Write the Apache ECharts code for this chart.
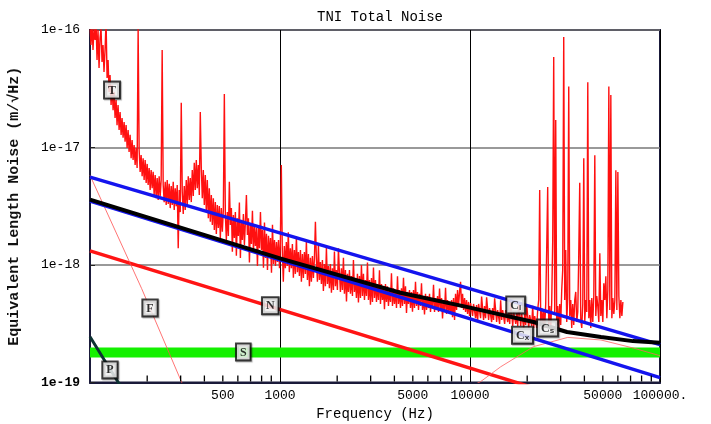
<!DOCTYPE html>
<html><head><meta charset="utf-8">
<script src="https://cdn.jsdelivr.net/npm/echarts@6/dist/echarts.min.js"></script>
<style>html,body{margin:0;padding:0;background:#fff}#c{width:711px;height:424px}</style>
</head><body><div id="c"></div>
<script>
// ---- tick labels ----
const xTickLabels = [500, 1000, 5000, 10000, 50000, 100000];
const xMinorTicks = [200,300,400,500,600,700,800,900,2000,3000,4000,5000,6000,7000,8000,9000,20000,30000,40000,50000,60000,70000,80000,90000];

// ---- measured total noise (T) [Hz, m/rtHz] ----
const measuredNoise = [
[100,1.17e-16],[101.2,7.45e-17],[102.5,1.1e-16],[103.7,6.76e-17],[105,1.04e-16],[106.3,8.22e-17],[107.6,1.17e-16],[108.9,5.56e-17],[110.2,1.0e-16],[111.6,4.75e-17],[112.9,8.5e-17],[114.3,1.04e-16],[115.7,5.35e-17],[117.1,7.45e-17],[118.5,4.4e-17],[120,6.76e-17],[121.5,1.2e-16],[123,3.9e-17],[124.5,5.56e-17],[126,2.97e-17],[127.5,4.14e-17],[129.1,2.3e-17],[130.7,3.4e-17],[132.3,2.08e-17],[133.9,2.97e-17],[135.5,1.78e-17],[137.2,2.54e-17],[138.8,1.55e-17],[140.5,2.3e-17],[142.3,1.41e-17],[144,2.0e-17],[145.8,1.28e-17],[147.5,1.78e-17],[149.3,1.21e-17],[151.2,1.65e-17],[153,1.12e-17],[154.9,1.55e-17],[156.8,9.9e-18],[158.7,1.41e-17],[160.6,9.15e-18],[162.6,1.28e-17],[164.6,8.1e-18],[166.6,1.16e-17],[168.6,7.83e-18],[170.7,1.05e-17],[172.8,7.1e-18],[174.9,9.9e-18],[177,6.7e-18],[179.2,1.04e-16],[181.4,9.52e-18],[183.6,6.2e-18],[185.8,8.63e-18],[188.1,5.7e-18],[190.4,8.1e-18],[192.7,5.29e-18],[195.1,7.83e-18],[197.5,5.0e-18],[199.9,7.25e-18],[202.3,4.8e-18],[204.8,6.7e-18],[207.3,4.35e-18],[209.8,6.43e-18],[212.4,4.5e-18],[215,6.2e-18],[217.6,3.94e-18],[220.3,5.83e-18],[223,3.7e-18],[225.7,5.5e-18],[228.5,3.57e-18],[231.2,5.7e-18],[234.1,3.86e-18],[236.9,5.29e-18],[239.8,6.76e-17],[242.8,4.8e-18],[245.7,3.43e-18],[248.8,5.1e-18],[251.8,3.24e-18],[254.9,5.29e-18],[258,3.3e-18],[261.2,4.9e-18],[264.4,3.05e-18],[267.6,4.7e-18],[270.9,3.24e-18],[274.2,5.1e-18],[277.5,2.94e-18],[280.9,4.5e-18],[284.4,3.17e-18],[287.8,4.8e-18],[291.3,1.39e-18],[294.9,4.35e-18],[298.5,2.82e-18],[302.2,2.4e-17],[305.9,4.2e-18],[309.6,2.72e-18],[313.4,4.7e-18],[317.2,2.94e-18],[321.1,5.29e-18],[325,3.24e-18],[329,5.7e-18],[333,3.57e-18],[337.1,5.5e-18],[341.2,3.43e-18],[345.4,6.43e-18],[349.6,3.86e-18],[353.9,7.4e-18],[358.2,4.35e-18],[362.6,7.83e-18],[367,4.5e-18],[371.5,7.1e-18],[376,3.94e-18],[380.6,2.0e-17],[385.3,6.7e-18],[390,3.7e-18],[394.8,6.43e-18],[399.6,3.24e-18],[404.5,5.83e-18],[409.4,2.82e-18],[414.4,5.29e-18],[419.5,2.5e-18],[424.6,4.5e-18],[429.8,2.33e-18],[435.1,3.94e-18],[440.4,2.19e-18],[445.8,3.7e-18],[451.2,1.99e-18],[456.7,3.43e-18],[462.3,1.84e-18],[467.9,3.24e-18],[473.6,2.07e-18],[479.4,3.17e-18],[485.3,1.7e-18],[491.2,3.05e-18],[497.2,1.92e-18],[503.3,2.94e-18],[509.4,2.85e-17],[515.7,2.66e-18],[522,1.63e-18],[528.3,2.82e-18],[534.8,1.77e-18],[541.3,5.1e-18],[548,2.19e-18],[554.7,3.05e-18],[561.4,1.3e-18],[568.3,2.66e-18],[575.2,1.7e-18],[582.3,2.82e-18],[589.4,1.2e-18],[596.6,2.5e-18],[603.9,1.77e-18],[611.3,3.4e-18],[618.8,1.15e-18],[626.4,2.42e-18],[634,1.63e-18],[641.8,2.72e-18],[649.6,1.48e-18],[657.6,2.33e-18],[665.6,3.94e-18],[673.8,1.8e-18],[682,2.5e-18],[690.4,1.05e-18],[698.8,2.25e-18],[707.4,1.51e-18],[716,2.9e-18],[724.8,1.29e-18],[733.7,2.15e-18],[742.6,1.45e-18],[751.7,2.07e-18],[760.9,9.8e-19],[770.2,2.19e-18],[779.6,1.39e-18],[789.1,2.82e-18],[798.8,1.34e-18],[808.5,1.99e-18],[818.4,9.5e-19],[828.4,2.3e-18],[838.5,1.15e-18],[848.8,1.84e-18],[859.1,9.07e-19],[869.6,1.77e-18],[880.3,1.15e-18],[891,1.7e-18],[901.9,8.6e-19],[912.9,2.2e-18],[924.1,1.02e-18],[935.4,1.63e-18],[946.8,9.8e-19],[958.4,1.57e-18],[970.1,1.06e-18],[982,1.63e-18],[994,9.4e-19],[1004,1.51e-18],[1016,7.1e-18],[1028,1.39e-18],[1041,7.2e-19],[1054,1.45e-18],[1067,9.4e-19],[1080,1.57e-18],[1093,9.8e-19],[1106,1.9e-18],[1120,8.7e-19],[1134,1.39e-18],[1148,9.4e-19],[1162,1.51e-18],[1176,7.8e-19],[1190,1.34e-18],[1205,8.4e-19],[1220,1.75e-18],[1235,8.7e-19],[1250,1.29e-18],[1265,8.05e-19],[1281,1.34e-18],[1296,7.2e-19],[1312,1.24e-18],[1328,7.75e-19],[1344,1.29e-18],[1361,8.4e-19],[1377,1.6e-18],[1394,7.45e-19],[1411,1.24e-18],[1428,6.6e-19],[1446,1.15e-18],[1463,7.2e-19],[1481,1.19e-18],[1499,7.75e-19],[1518,1.15e-18],[1536,2.33e-18],[1555,1.1e-18],[1574,7.2e-19],[1593,1.5e-18],[1612,7.45e-19],[1632,1.06e-18],[1652,6.9e-19],[1672,1.1e-18],[1692,6.0e-19],[1713,1.02e-18],[1734,6.6e-19],[1755,1.4e-18],[1777,6.9e-19],[1798,9.8e-19],[1820,6.35e-19],[1842,1.02e-18],[1865,5.8e-19],[1888,9.4e-19],[1911,6.13e-19],[1934,1.3e-18],[1958,6.6e-19],[1981,9.07e-19],[2005,6.13e-19],[2030,1.39e-18],[2055,8.7e-19],[2080,5.9e-19],[2105,9.4e-19],[2131,6.13e-19],[2157,1.15e-18],[2183,5.7e-19],[2210,9.07e-19],[2238,4.9e-19],[2264,8.4e-19],[2292,5.9e-19],[2320,9.07e-19],[2348,5.7e-19],[2377,8.05e-19],[2406,5.45e-19],[2435,1.1e-18],[2465,5.9e-19],[2495,7.75e-19],[2525,5.24e-19],[2556,8.4e-19],[2587,4.8e-19],[2619,8.05e-19],[2651,5.24e-19],[2683,1.0e-18],[2716,5.45e-19],[2749,8.4e-19],[2783,5.04e-19],[2817,7.45e-19],[2851,5.45e-19],[2886,1.05e-18],[2921,5.04e-19],[2957,7.45e-19],[2993,4.6e-19],[3030,7.75e-19],[3067,4.85e-19],[3104,9.5e-19],[3142,5.24e-19],[3180,7.45e-19],[3219,4.85e-19],[3258,6.9e-19],[3298,5.04e-19],[3338,9.0e-19],[3379,4.66e-19],[3420,6.9e-19],[3462,5.04e-19],[3504,6.6e-19],[3547,4.2e-19],[3590,6.9e-19],[3634,4.85e-19],[3678,6.6e-19],[3723,4.48e-19],[3769,6.35e-19],[3815,4.85e-19],[3861,8.5e-19],[3908,4.48e-19],[3956,6.35e-19],[4004,4.66e-19],[4053,6.13e-19],[4103,4.3e-19],[4153,8.0e-19],[4203,4.66e-19],[4255,6.13e-19],[4307,4.3e-19],[4359,6.35e-19],[4412,4.48e-19],[4466,7.8e-19],[4521,4.66e-19],[4576,6.6e-19],[4632,3.9e-19],[4688,5.9e-19],[4745,4.66e-19],[4803,6.13e-19],[4862,4.3e-19],[4921,5.9e-19],[4981,4.0e-19],[5042,6.13e-19],[5104,4.3e-19],[5166,7.2e-19],[5229,4.48e-19],[5293,5.9e-19],[5358,4.14e-19],[5423,5.7e-19],[5489,4.48e-19],[5556,7.0e-19],[5624,4.14e-19],[5693,5.45e-19],[5762,3.8e-19],[5832,5.7e-19],[5904,4.14e-19],[5976,5.45e-19],[6049,4.3e-19],[6123,5.7e-19],[6197,3.98e-19],[6273,5.24e-19],[6350,4.3e-19],[6427,6.8e-19],[6506,3.98e-19],[6585,5.24e-19],[6666,4.14e-19],[6747,5.45e-19],[6830,3.98e-19],[6913,6.3e-19],[6997,4.14e-19],[7083,5.24e-19],[7169,3.5e-19],[7257,5.04e-19],[7346,3.98e-19],[7435,6.4e-19],[7526,3.83e-19],[7618,5.04e-19],[7711,3.98e-19],[7805,4.85e-19],[7900,3.83e-19],[7997,5.04e-19],[8094,3.6e-19],[8193,5.24e-19],[8293,3.4e-19],[8394,5.7e-19],[8497,4.14e-19],[8600,6.13e-19],[8705,4.48e-19],[8812,5.9e-19],[8919,7.2e-19],[9028,4.3e-19],[9138,5.7e-19],[9250,4.14e-19],[9363,5.24e-19],[9477,3.98e-19],[9592,5.04e-19],[9710,3.83e-19],[9828,4.85e-19],[9948,3.68e-19],[10070,4.75e-19],[10320,3.68e-19],[10440,4.66e-19],[10700,3.53e-19],[10830,4.57e-19],[10960,3.3e-19],[11100,4.66e-19],[11370,3.53e-19],[11510,5.4e-19],[11790,3.4e-19],[11930,4.48e-19],[12080,3.53e-19],[12230,5.3e-19],[12530,3.4e-19],[12680,4.3e-19],[13000,3.27e-19],[13150,4.3e-19],[13310,3.4e-19],[13480,5.2e-19],[13810,3.27e-19],[13980,4.14e-19],[14320,3.15e-19],[14500,5.0e-19],[14680,3.4e-19],[14860,4.14e-19],[15220,3.15e-19],[15410,4.14e-19],[15790,3.27e-19],[15980,3.98e-19],[16180,3.15e-19],[16370,4.9e-19],[16780,3.03e-19],[16980,3.98e-19],[17400,3.15e-19],[17610,3.9e-19],[17830,3.03e-19],[18040,4.7e-19],[18490,3.03e-19],[18710,3.83e-19],[19170,2.91e-19],[19410,3.83e-19],[19640,3.09e-19],[19880,4.6e-19],[20370,2.91e-19],[20620,3.75e-19],[21120,3.03e-19],[21380,4.5e-19],[21640,2.91e-19],[21900,3.68e-19],[22440,2.91e-19],[22710,4.14e-19],[22990,5.04e-19],[23270,4.35e-18],[23560,3.27e-19],[23840,4.3e-19],[24130,3.03e-19],[24430,4.14e-19],[24730,2.91e-19],[25030,4.66e-19],[25330,1.34e-18],[25640,4.6e-18],[25960,3.15e-19],[26270,4.48e-19],[26590,2.8e-19],[26920,4.85e-19],[27250,1.63e-18],[27580,5.9e-17],[27920,3.98e-19],[28260,1.71e-17],[28600,3.09e-19],[28950,4.48e-19],[29300,2.8e-19],[29660,4.66e-19],[30020,3.09e-19],[30390,6.13e-19],[30760,9.07e-19],[31140,8.7e-17],[31520,5.04e-19],[31900,1.34e-18],[32290,3.27e-19],[32690,5.24e-19],[33090,3.3e-17],[33490,3.68e-19],[33900,5.04e-19],[34310,2.91e-19],[34730,4.66e-19],[35160,3.09e-19],[35590,5.04e-19],[36020,5.9e-19],[36460,3.27e-19],[36910,3.98e-19],[37360,1.22e-18],[37810,5.0e-18],[38280,3.4e-19],[38740,2.91e-19],[39220,4.66e-19],[39700,8.1e-18],[40180,3.27e-19],[40680,5.04e-19],[41170,3.98e-19],[41680,3.6e-17],[42190,3.53e-19],[42700,5.04e-19],[43220,2.91e-19],[43750,5.24e-19],[44290,3.27e-19],[44830,5.45e-19],[45380,8.6e-18],[45930,3.68e-19],[46490,5.45e-19],[47060,4.48e-19],[47640,3.27e-19],[48220,1.26e-18],[48810,3.68e-19],[49410,5.04e-19],[50010,3.27e-19],[50620,7.0e-19],[51240,5.04e-19],[51870,8.0e-19],[52500,3.53e-19],[53140,6.13e-19],[53790,3.3e-17],[54450,4.14e-19],[55110,2.8e-17],[55790,3.53e-19],[56470,5.24e-19],[57160,3.83e-19],[57860,5.04e-19],[58570,6.4e-18],[59280,4.14e-19],[60010,6.2e-18],[60740,5.45e-19],[61480,3.53e-19],[62240,5.04e-19],[63000,3.68e-19],[63770,4.85e-19]
];

// ---- model curves [Hz, m/rtHz] ----
const upperBlue = [[100,5.6e-18],[100000,2.1e-19]];
const lowerBlue = [[100,3.5e-18],[100000,1.1e-19]];
const totalModel = [[100,3.6e-18],[1000,1.14e-18],[4300,5.8e-19],[9600,4.4e-19],[21600,3.27e-19],[32400,2.69e-19],[48900,2.44e-19],[72000,2.25e-19],[100000,2.18e-19]];
const nCurve = [[100,1.32e-18],[100000,4.2e-20]];
const sCurve = [[100,1.8e-19],[100000,1.8e-19]];
const fCurve = [[100,5.8e-18],[187,6.3e-19],[304,1.0e-19],[330,7.5e-20]];
const arcCurve = [[9500,8.8e-20],[11400,1.02e-19],[14500,1.36e-19],[21600,2.02e-19],[32700,2.42e-19],[48900,2.3e-19],[72800,1.96e-19],[100000,1.69e-19]];
const pCurve = [[100,2.45e-19],[118.5,1.57e-19],[141,1.0e-19],[150,8.5e-20]];

// ---- curve labels ----
const labelFreq  = [130.6, 207, 889, 641, 127.4, 17400, 18900, 25600];
const labelLevel = [3.08e-17, 4.31e-19, 4.5e-19, 1.82e-19, 1.28e-19, 4.57e-19, 2.53e-19, 2.91e-19];
const labelMain  = ['T','F','N','S','P','C','C','C'];
const labelSub   = ['','','','','','l','x','s'];

const mono = 'Liberation Mono, Courier New, monospace';
function ln(name, data, color, width, z) {
  return {name, type:'line', data, showSymbol:false, symbol:'none', clip:true, silent:true, z:z||2,
    lineStyle:{color, width}, emphasis:{disabled:true}};
}
const labelData = labelFreq.map((f,i)=>({value:[f,labelLevel[i]], name:labelMain[i], sub:labelSub[i]}));
const yMin = 1e-19;
const tickData = xMinorTicks.map(v=>[v, yMin]);

const chart = echarts.init(document.getElementById('c'), null, {renderer:'canvas'});
chart.setOption({
  animation:false,
  backgroundColor:'#fff',
  title:{text:'TNI Total Noise', left:375, top:5, textAlign:'center',
    textStyle:{fontFamily:mono, fontSize:14, fontWeight:'normal', color:'#000'}},
  grid:{left:90, right:51, top:30, bottom:41.5, show:true, borderColor:'#1a1a3a', borderWidth:2, backgroundColor:'transparent', outerBoundsMode:'none', containLabel:false},
  xAxis:{
    type:'log', logBase:10, min:100, max:100000, position:'bottom',
    name:'Frequency (Hz)', nameLocation:'middle', nameGap:24,
    nameTextStyle:{fontFamily:mono, fontSize:14, color:'#000'},
    axisLine:{show:true, lineStyle:{color:'#1a1a3a', width:2}},
    axisTick:{show:false},
    axisLabel:{show:true, customValues:xTickLabels, margin:7, fontFamily:mono, fontSize:13, color:'#000',
      formatter:v=> (Math.abs(v-100000)<1 ? '100000.' : String(Math.round(v)))},
    splitLine:{show:true, lineStyle:{color:'#000', width:1}}
  },
  yAxis:{
    type:'log', logBase:10, min:yMin, max:1e-16,
    name:'Equivalent Length Noise (m/\u221AHz)', nameLocation:'middle', nameGap:68,
    nameTextStyle:{fontFamily:mono, fontSize:15, fontWeight:'bold', color:'#111'},
    axisLine:{show:true, lineStyle:{color:'#1a1a3a', width:2}},
    axisTick:{show:true, inside:true, length:5, lineStyle:{color:'#222'}},
    axisLabel:{margin:10, fontFamily:mono, fontSize:13, color:'#000',
      formatter:v=>{const e=Math.round(Math.log10(v)); return e===-19?'{b|1e-19}':'1e'+e;},
      rich:{b:{fontFamily:mono, fontSize:13, fontWeight:'bold', color:'#000'}}},
    splitLine:{show:true, lineStyle:{color:'#777', width:1.5}}
  },
  series:[
    ln('T', measuredNoise, '#ff1010', 1.4, 2),
    ln('S', sCurve, '#14f000', 10, 3),
    ln('N', nCurve, '#ff1414', 3.5, 4),
    ln('F', fCurve, '#ff5050', 0.8, 4),
    ln('arc', arcCurve, '#ff6060', 0.8, 4),
    ln('P', pCurve, '#0d3333', 3, 4),
    ln('lowerBlue', lowerBlue, '#1414ee', 3.5, 5),
    ln('upperBlue', upperBlue, '#1414ee', 3.5, 5),
    ln('total', totalModel, '#000', 4, 6),
    {type:'custom', coordinateSystem:'cartesian2d', silent:true, z:20, clip:false,
      encode:{x:0, y:1},
      data: tickData,
      renderItem:function(params, api){
        const p = api.coord([api.value(0), api.value(1)]);
        return {type:'line', z2:100, shape:{x1:p[0], y1:p[1]-1, x2:p[0], y2:p[1]-7}, style:{stroke:'#000', lineWidth:1.3}};
      }},
    {type:'scatter', data:labelData, symbol:'rect', symbolSize:0, silent:true, z:10,
      label:{show:true, position:'inside',
        formatter:p=> p.data.sub ? '{m|'+p.data.name+'}{s|'+p.data.sub+'}' : '{m|'+p.data.name+'}',
        backgroundColor:'#fff', borderColor:'#111', borderWidth:2, padding:[2,3,1,3],
        shadowColor:'rgba(0,0,0,0.35)', shadowOffsetX:1, shadowOffsetY:1, shadowBlur:1,
        rich:{m:{fontFamily:'Liberation Serif, serif', fontWeight:'bold', fontSize:12, color:'#000'},
              s:{fontFamily:'Liberation Sans, sans-serif', fontWeight:'bold', fontSize:8, color:'#000', verticalAlign:'bottom'}}}}
  ]
});
</script></body></html>
